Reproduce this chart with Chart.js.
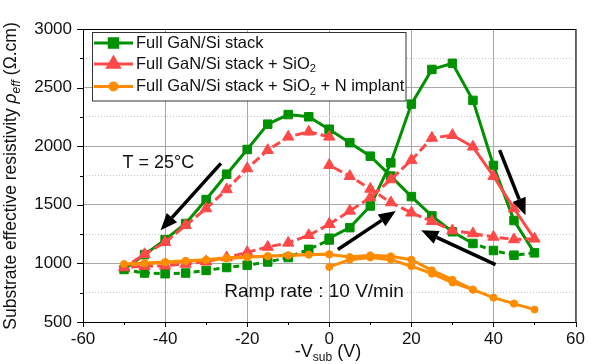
<!DOCTYPE html>
<html>
<head>
<meta charset="utf-8">
<script src="https://cdn.jsdelivr.net/npm/chart.js@4.4.0/dist/chart.umd.min.js"></script>
<style>
  html, body { margin: 0; padding: 0; background: #fff; }
  #wrap { width: 592px; height: 364px; }
</style>
</head>
<body>
<div id="wrap"><canvas id="chart" width="592" height="364"></canvas></div>
<script>
// sweep of -Vsub (V): 0 -> 50 -> 0, then 0 -> -50 -> 0
var vUp = [0, 5, 10, 15, 20, 25, 30, 35, 40, 45, 50];
var vBack = [45, 40, 35, 30, 25, 20, 15, 10, 5, 0];
var vNeg = [0, -5, -10, -15, -20, -25, -30, -35, -40, -45, -50];
var vNegBack = [-45, -40, -35, -30, -25, -20, -15, -10, -5, 0];
var vsub = vUp.concat(vBack, vNeg, vNegBack);

// effective resistivity (Ohm.cm), same order as vsub
var ganStack = [1215, 1305, 1490, 1858, 2359, 2655, 2707, 2391, 1836, 1366, 1090,
                1070, 1110, 1170, 1270, 1405, 1570, 1745, 1915, 2030, 2143,
                2143, 2251, 2270, 2188, 1972, 1761, 1545, 1340, 1203, 1075, 948,
                918, 912, 918, 940, 965, 985, 1012, 1050, 1120, 1200];
var ganSiO2 = [1334, 1448, 1562, 1716, 1881, 2070, 2094, 1995, 1744, 1468, 1210,
               1204, 1226, 1255, 1280, 1360, 1432, 1520, 1635, 1744, 1838,
               2080, 2123, 2080, 1966, 1810, 1631, 1468, 1325, 1180, 1078, 965,
               975, 980, 995, 1015, 1050, 1095, 1140, 1175, 1240, 1334];
var ganSiO2N = [970, 1032, 1050, 1032, 976, 912, 836, 776, 708, 657, 606,
                657, 708, 776, 861, 941, 1032, 1061, 1069, 1055, 1075,
                1078, 1076, 1070, 1063, 1055, 1048, 1032, 1022, 1012, 1003, 995,
                998, 1008, 1018, 1027, 1042, 1052, 1060, 1067, 1074, 1078];

var xTicks = [-60, -40, -20, 0, 20, 40, 60];
var yTicks = [500, 1000, 1500, 2000, 2500, 3000];

// legend text, [main, subscript, rest]
var legendLabels = [
  ['Full GaN/Si stack', '', ''],
  ['Full GaN/Si stack + SiO', '2', ''],
  ['Full GaN/Si stack + SiO', '2', ' + N implant']
];

var GREEN = '#009100';
var RED = '#ff4848';
var ORANGE = '#ff8c00';
var FONT = "'Liberation Sans', Arial, sans-serif";

// segments drawn dashed (index of the segment start point)
var greenDashed = [10, 11, 12, 31, 32, 33, 34, 35, 36, 37, 38, 39, 40];
var redSolid = [6, 7, 8, 9];
var sweepJump = 20;

function points(vals) {
  return vsub.map(function (v, i) { return { x: v, y: vals[i] }; });
}

// arrows in data coordinates: [x0, y0, x1, y1]
var arrows = [
  [-26.4, 1853, -41.1, 1283],
  [2.1, 1118, 16.2, 1448],
  [40.5, 990, 22.4, 1283],
  [41.5, 1966, 47.8, 1411]
];

function drawArrow(ctx, x0, y0, x1, y1) {
  var a = Math.atan2(y1 - y0, x1 - x0);
  var L = 17, W = 7;
  var bx = x1 - L * Math.cos(a), by = y1 - L * Math.sin(a);
  ctx.beginPath();
  ctx.moveTo(x0, y0);
  ctx.lineTo(bx, by);
  ctx.lineWidth = 3.5;
  ctx.stroke();
  ctx.beginPath();
  ctx.moveTo(x1, y1);
  ctx.lineTo(bx + W * Math.sin(a), by - W * Math.cos(a));
  ctx.lineTo(bx - W * Math.sin(a), by + W * Math.cos(a));
  ctx.closePath();
  ctx.fill();
}

// text made of parts {t, size, italic, dy}
function drawParts(ctx, parts, x, y, align) {
  var total = 0;
  parts.forEach(function (p) {
    ctx.font = (p.italic ? 'italic ' : '') + p.size + 'px ' + FONT;
    p.w = ctx.measureText(p.t).width;
    total += p.w;
  });
  var cx = align === 'center' ? x - total / 2 : x;
  parts.forEach(function (p) {
    ctx.font = (p.italic ? 'italic ' : '') + p.size + 'px ' + FONT;
    ctx.fillText(p.t, cx, y + (p.dy || 0));
    cx += p.w;
  });
}

var decor = {
  id: 'decor',
  beforeDatasetsDraw: function (chart) {
    var ctx = chart.ctx, a = chart.chartArea;
    var xs = chart.scales.x, ys = chart.scales.y;
    ctx.save();
    ctx.strokeStyle = '#000';
    ctx.lineWidth = 1;
    ctx.strokeRect(a.left + 0.5, a.top + 0.5, a.right - a.left, a.bottom - a.top);
    ctx.beginPath();
    for (var v = -60; v <= 60; v += 10) {
      var px = Math.round(xs.getPixelForValue(v)) + 0.5;
      ctx.moveTo(px, a.bottom);
      ctx.lineTo(px, a.bottom + (v % 20 === 0 ? 5 : 3));
    }
    for (var w = 500; w <= 3000; w += 250) {
      var py = Math.round(ys.getPixelForValue(w)) + 0.5;
      ctx.moveTo(a.left, py);
      ctx.lineTo(a.left - (w % 500 === 0 ? 6 : 3), py);
    }
    ctx.stroke();
    ctx.restore();
  },
  afterDraw: function (chart) {
    var ctx = chart.ctx;
    var xs = chart.scales.x, ys = chart.scales.y;
    ctx.save();

    // arrows
    ctx.strokeStyle = '#000';
    ctx.fillStyle = '#000';
    arrows.forEach(function (r) {
      drawArrow(ctx, xs.getPixelForValue(r[0]), ys.getPixelForValue(r[1]),
                xs.getPixelForValue(r[2]), ys.getPixelForValue(r[3]));
    });

    // annotations
    ctx.fillStyle = '#111';
    ctx.textBaseline = 'middle';
    ctx.textAlign = 'left';
    ctx.font = '18px ' + FONT;
    ctx.fillText('T = 25°C', xs.getPixelForValue(-50.4), ys.getPixelForValue(1860));
    ctx.font = '19px ' + FONT;
    ctx.fillText('Ramp rate : 10 V/min', xs.getPixelForValue(-25.6), ys.getPixelForValue(756));

    // legend
    var lx = 92.5, ly = 32.5, lw = 313.5, lh = 68.5;
    ctx.fillStyle = '#fff';
    ctx.fillRect(lx, ly, lw, lh);
    ctx.strokeStyle = '#333';
    ctx.lineWidth = 1;
    ctx.strokeRect(lx, ly, lw, lh);
    var rows = [43, 64, 86.5];
    chart.data.datasets.forEach(function (ds, i) {
      var y = rows[i];
      ctx.strokeStyle = ds.borderColor;
      ctx.lineWidth = 3;
      ctx.setLineDash([]);
      ctx.beginPath();
      ctx.moveTo(94, y);
      ctx.lineTo(133, y);
      ctx.stroke();
      ctx.fillStyle = ds.backgroundColor;
      Chart.helpers.drawPoint(ctx, { pointStyle: ds.pointStyle, radius: ds.pointRadius, borderWidth: 1, rotation: 0 }, 113.5, y);
      ctx.fill();
      ctx.fillStyle = '#111';
      ctx.textBaseline = 'middle';
      var lab = legendLabels[i];
      drawParts(ctx, [
        { t: lab[0], size: 16.5 },
        { t: lab[1], size: 11, dy: 5 },
        { t: lab[2], size: 16.5 }
      ], 136, y, 'left');
    });

    // axis titles
    ctx.fillStyle = '#111';
    ctx.textBaseline = 'alphabetic';
    drawParts(ctx, [
      { t: '-V', size: 18 },
      { t: 'sub', size: 12, dy: 4 },
      { t: ' (V)', size: 18 }
    ], 328, 356.5, 'center');

    ctx.translate(15.5, 176);
    ctx.rotate(-Math.PI / 2);
    drawParts(ctx, [
      { t: 'Substrate effective resistivity ', size: 17.5 },
      { t: 'ρ', size: 17.5, italic: true },
      { t: 'eff', size: 12, italic: true, dy: 4 },
      { t: ' (Ω.cm)', size: 17.5 }
    ], 0, 0, 'center');
    ctx.restore();
  }
};

Chart.defaults.font.family = FONT;

var ctx = document.getElementById('chart').getContext('2d');
var chart = new Chart(ctx, {
  type: 'scatter',
  data: {
    datasets: [{
      label: 'Full GaN/Si stack',
      data: points(ganStack),
      showLine: true,
      borderColor: GREEN,
      backgroundColor: GREEN,
      borderWidth: 3,
      pointStyle: 'rect',
      pointRadius: 6,
      pointBorderWidth: 1,
      order: 3,
      segment: {
        borderDash: function (c) { return greenDashed.indexOf(c.p0DataIndex) >= 0 ? [6, 4] : undefined; },
        borderColor: function (c) { return c.p0DataIndex === sweepJump ? 'rgba(0,0,0,0)' : undefined; }
      }
    }, {
      label: 'Full GaN/Si stack + SiO2',
      data: points(ganSiO2),
      showLine: true,
      borderColor: RED,
      backgroundColor: RED,
      borderWidth: 3,
      pointStyle: 'triangle',
      pointRadius: 6.5,
      pointBorderWidth: 1,
      order: 2,
      segment: {
        borderDash: function (c) { return redSolid.indexOf(c.p0DataIndex) >= 0 ? undefined : [9, 4]; },
        borderColor: function (c) { return c.p0DataIndex === sweepJump ? 'rgba(0,0,0,0)' : undefined; }
      }
    }, {
      label: 'Full GaN/Si stack + SiO2 + N implant',
      data: points(ganSiO2N),
      showLine: true,
      borderColor: ORANGE,
      backgroundColor: ORANGE,
      borderWidth: 3,
      pointStyle: 'circle',
      pointRadius: 3.5,
      pointBorderWidth: 1,
      order: 1,
      segment: {
        borderColor: function (c) { return c.p0DataIndex === sweepJump ? 'rgba(0,0,0,0)' : undefined; }
      }
    }]
  },
  options: {
    responsive: false,
    animation: false,
    devicePixelRatio: 1,
    layout: { padding: { top: 29, right: 11, left: 0, bottom: 0 } },
    plugins: { legend: { display: false }, tooltip: { enabled: false } },
    scales: {
      x: {
        type: 'linear',
        min: -60,
        max: 60,
        afterBuildTicks: function (s) { s.ticks = xTicks.map(function (v) { return { value: v }; }); },
        afterFit: function (s) { s.height = 42; },
        grid: { color: '#a8a8a8', lineWidth: 1, drawTicks: false },
        border: { display: false },
        ticks: { color: '#111', font: { size: 17 }, padding: 7, maxRotation: 0 }
      },
      y: {
        min: 500,
        max: 3000,
        afterBuildTicks: function (s) {
          var t = [];
          for (var v = 500; v <= 3000; v += 250) t.push({ value: v });
          s.ticks = t;
        },
        afterFit: function (s) { s.width = 83; },
        grid: {
          color: function (c) { return c.tick && c.tick.value % 500 ? '#c4c4c4' : '#a8a8a8'; },
          lineWidth: 1,
          drawTicks: false
        },
        border: {
          display: false,
          dash: function (c) { return c.tick && c.tick.value % 500 ? [1, 2] : []; }
        },
        ticks: {
          color: '#111',
          font: { size: 17 },
          padding: 11,
          callback: function (v) { return yTicks.indexOf(v) >= 0 ? String(v) : ''; }
        }
      }
    }
  },
  plugins: [decor]
});
</script>
</body>
</html>
